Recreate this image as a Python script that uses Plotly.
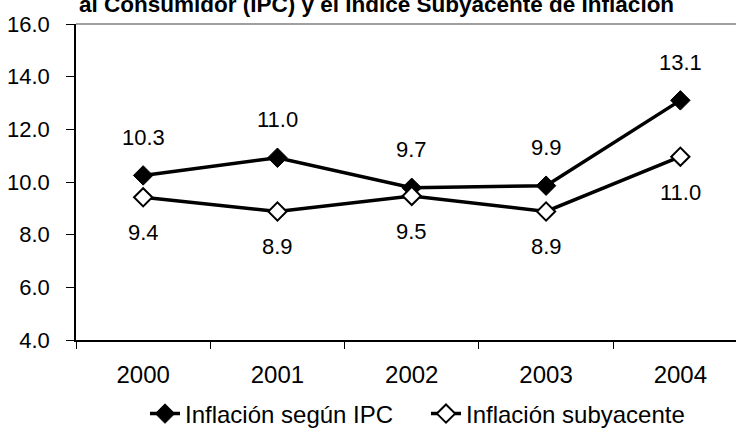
import plotly.graph_objects as go

years = ["2000", "2001", "2002", "2003", "2004"]
ipc_values = [10.25, 10.92, 9.78, 9.86, 13.1]
sub_values = [9.42, 8.88, 9.47, 8.88, 10.96]
ipc_labels = ["10.3", "11.0", "9.7", "9.9", "13.1"]
sub_labels = ["9.4", "8.9", "9.5", "8.9", "11.0"]
y_ticks = [4, 6, 8, 10, 12, 14, 16]
title_line = "al Consumidor (IPC) y el Índice Subyacente de Inflación"

FONT = "Arial, Liberation Sans, sans-serif"

fig = go.Figure()
fig.add_trace(go.Scatter(
    x=years, y=ipc_values, mode="lines+markers", name="Inflación según IPC",
    line=dict(color="black", width=3.5),
    marker=dict(symbol="diamond", size=15, color="black", line=dict(color="black", width=1)),
))
fig.add_trace(go.Scatter(
    x=years, y=sub_values, mode="lines+markers", name="Inflación subyacente",
    line=dict(color="black", width=3.5),
    marker=dict(symbol="diamond", size=14, color="white", line=dict(color="black", width=2)),
))

for i, (v, t) in enumerate(zip(ipc_values, ipc_labels)):
    fig.add_annotation(x=i, y=v, xref="x", yref="y", text=t, showarrow=False, yshift=38,
                       font=dict(family=FONT, size=22, color="black"))
for i, (v, t) in enumerate(zip(sub_values, sub_labels)):
    fig.add_annotation(x=i, y=v, xref="x", yref="y", text=t, showarrow=False, yshift=-35.5,
                       font=dict(family=FONT, size=22, color="black"))

fig.add_annotation(xref="paper", yref="paper", x=(376 - 76) / 660, y=1.0,
                   yshift=5, yanchor="bottom", xanchor="center",
                   text="<b>" + title_line + "</b>", showarrow=False,
                   font=dict(family=FONT, size=22.5, color="black"))

fig.add_shape(type="line", xref="paper", yref="paper", x0=0, x1=1, y0=1, y1=1,
              line=dict(color="#808080", width=1.5))

fig.update_layout(
    width=736, height=430,
    margin=dict(l=76, r=0, t=24, b=90, autoexpand=False),
    paper_bgcolor="white", plot_bgcolor="white",
    font=dict(family=FONT, size=22, color="black"),
    showlegend=True,
    legend=dict(orientation="h", x=(145 - 76) / 660, xanchor="left",
                y=-0.25 + 5 / 316, yanchor="middle",
                font=dict(family=FONT, size=24, color="black"),
                entrywidth=236, entrywidthmode="pixels",
                bgcolor="rgba(0,0,0,0)"),
    xaxis=dict(type="category", range=[-0.5, -0.5 + 660 / 134.3], showgrid=False,
               showline=True, linecolor="black", linewidth=1.5,
               ticks="outside", tickson="boundaries", ticklen=7, tickcolor="black",
               tickfont=dict(size=24), ticklabelstandoff=12, zeroline=False),
    yaxis=dict(range=[4, 16], tickvals=y_ticks, tickformat=".1f", showgrid=False,
               showline=True, linecolor="black", linewidth=1.5,
               ticks="outside", ticklen=8, tickcolor="black", zeroline=False,
               tickfont=dict(size=22), ticklabelstandoff=12),
)

fig.write_html("out.html", config={"displayModeBar": False},
               post_script="document.body.style.margin='0';document.body.style.overflow='hidden';")
